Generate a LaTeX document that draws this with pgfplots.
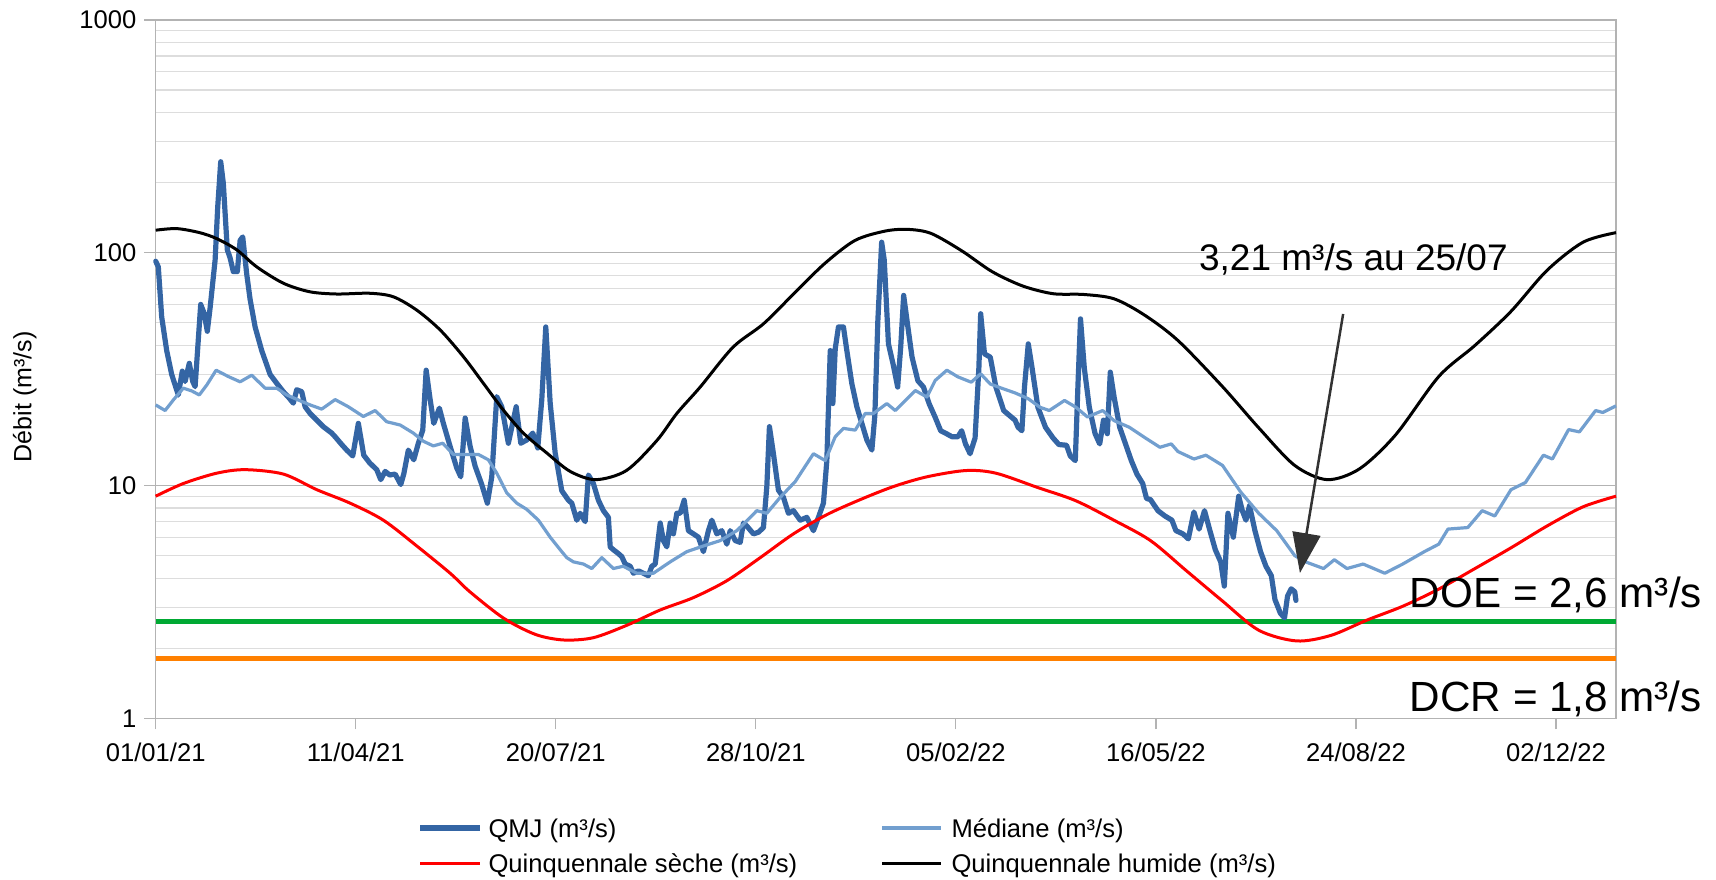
\documentclass[border=0pt]{standalone}
\usepackage{fontspec}
\setmainfont{Liberation Sans}
\usepackage{pgfplots}
\pgfplotsset{compat=1.18}
\usetikzlibrary{arrows.meta}
\definecolor{qmj}{HTML}{3465A4}
\definecolor{med}{HTML}{729FCF}
\definecolor{doe}{HTML}{00A933}
\definecolor{dcr}{HTML}{FF8000}
\definecolor{gridmajor}{HTML}{B3B3B3}
\definecolor{gridminor}{HTML}{DDDDDD}
\definecolor{arrowc}{HTML}{333333}
\begin{document}
\begin{tikzpicture}
\path[use as bounding box] (-77.85pt,-80.35pt) rectangle (780.15pt,359.15pt);
\begin{axis}[
  at={(0pt,0pt)}, anchor=south west,
  scale only axis, width=730.15pt, height=349.15pt,
  ymode=log, ymin=1, ymax=1000, xmin=0, xmax=730,
  xtick={0,100,200,300,400,500,600,700},
  xticklabels={01/01/21,11/04/21,20/07/21,28/10/21,05/02/22,16/05/22,24/08/22,02/12/22},
  ytick={1,10,100,1000}, yticklabels={1,10,100,1000},
  minor ytick={2,3,4,5,6,7,8,9,20,30,40,50,60,70,80,90,200,300,400,500,600,700,800,900},
  ymajorgrids, yminorgrids,
  major grid style={draw=gridmajor, line width=0.6pt},
  minor grid style={draw=gridminor, line width=0.6pt},
  axis line style={draw=gridmajor, line width=0.6pt},
  tick style={draw=gridmajor, line width=0.6pt},
  tick align=outside, major tick length=5.6pt, minor tick length=0pt,
  xtick pos=lower, ytick pos=left,
  tick label style={font=\fontsize{12.8}{15}\selectfont},
  xticklabel style={anchor=base, inner sep=0pt, yshift=-16.2pt},
  yticklabel style={anchor=east, inner sep=0pt, xshift=-3.9pt},
  ylabel={Débit (m³/s)},
  ylabel style={at={(axis description cs:-0.0896,0.4603)}, anchor=center, rotate=0, font=\fontsize{12.5}{15}\selectfont},
  clip=false,
]
% DOE / DCR
\addplot[doe, line width=2.6pt] coordinates {(0,2.6) (730,2.6)};
\addplot[dcr, line width=2.6pt] coordinates {(0,1.8) (730,1.8)};
% QMJ
\addplot[qmj, line width=2.6pt, line join=round, line cap=round] table {
x y
0 92
1.3 87
3 53
5.5 38
8 30
11.3 24.5
13.3 31
14.7 28
16.8 33.5
18.5 28
19.7 26.6
22.5 60
24.2 55
25.8 46
27.2 58
29.7 93
31 157
32.5 246
33.8 199
35.8 103
37.2 95
38.8 83
40.8 83
42.2 113
43.5 117
45.5 81
47.2 63
49.7 48
53 38
57.2 30
60.5 27.5
63.8 25.3
66.3 24
68.8 22.6
70.5 25.8
73 25.3
74.7 21.8
77.2 20.4
80.5 19.1
83.8 17.9
88 16.8
89.7 16.2
93 15
95.5 14.2
98.5 13.4
101.3 18.5
104 13.5
107 12.5
110.5 11.7
112.5 10.6
114.7 11.5
117 11.1
119.7 11.2
122.5 10.1
124 11.2
126.3 14.2
129 12.9
131.3 15.2
133.5 17.3
135.2 31.3
137.2 23.4
139 18.5
141.8 21.5
143.8 18.5
147.2 14.7
150.5 11.9
152.5 10.9
154.7 19.5
157.2 14.7
159.7 12.1
163 10.1
165.8 8.4
168 10.9
170.5 24.1
173 21.8
176.3 15.2
180.2 21.8
182.5 15.2
185.5 15.7
188.5 16.8
191 14.5
193 23.4
195 48
197.2 22.6
199.7 13.8
203 9.5
206.3 8.65
208 8.4
210.5 7.1
212.2 7.6
214.7 7.0
216.3 11.1
218.8 10.2
221.3 8.65
223.8 7.8
226.3 7.3
227.2 5.45
228.8 5.3
231.3 5.1
233 4.95
234.7 4.6
237.2 4.5
238.8 4.2
241.3 4.3
243.8 4.2
246.3 4.1
248 4.5
249.7 4.6
252.2 6.9
253.8 5.8
255.5 5.45
257.2 6.9
258.8 6.2
260.5 7.6
262.2 7.6
264.2 8.65
266.3 6.4
268.8 6.2
271.3 6.0
273.8 5.2
276.3 6.4
278 7.1
280.5 6.2
283 6.4
285.5 5.6
287.2 6.4
289.7 5.8
292.2 5.7
293.8 6.9
295.5 6.7
298.8 6.2
301.3 6.3
303.8 6.6
305.5 9.9
306.8 17.9
308.8 13.7
311.3 9.55
313.8 8.9
316.3 7.6
318.8 7.8
322.2 7.1
325.5 7.3
328.8 6.4
331.3 7.3
333.8 8.4
335.5 12.8
337.2 38
338.5 22.5
339.7 38.7
341.3 48
343.8 48
345.5 38
348 27.4
350.5 21.8
353 18.5
355.5 15.7
358 14.2
359.5 20
361 51
362.9 111
364.2 93
366.3 40.6
368.6 33.3
370.9 26.5
372.4 39
373.9 65.6
375.8 49.5
378.1 35.6
381 28.2
383.8 26.5
386.7 22.4
389.6 19.7
392.4 17.2
395.3 16.7
398.1 16.2
401 16.2
402.9 17.2
404.8 15.1
407.1 13.7
409.6 16
411.5 32
412.4 54.7
414.3 36.8
417.2 35.6
420 26.5
423.9 21
427.7 19.7
429.6 19.1
431.1 17.8
433 17.2
434.3 26.5
436.2 40.6
438.1 32
441 21.7
444.8 17.8
448.6 16
451.5 15
455.3 14.9
457.2 13.4
459.7 12.8
461 26.5
462.3 52
464.2 32
466.7 21.7
469.6 16.7
471.9 15.1
473.8 19.1
475.7 16.7
477.2 30.7
479.1 24
481.9 17.8
484.8 15.1
487.7 12.8
490.5 11.2
493.4 10.2
495.3 8.8
497.3 8.7
501 7.8
504.5 7.4
508 7.1
510 6.4
513.5 6.2
516.2 5.9
519 7.7
521.6 6.5
524.3 7.8
527 6.4
529.7 5.3
532.4 4.7
534.2 3.7
536 7.6
538.7 6.0
541.4 9.0
543.2 7.8
545 7.1
546.8 8.2
549.5 6.4
552.3 5.2
555 4.5
557.7 4.1
559.5 3.24
562.2 2.83
564.3 2.7
565.8 3.35
567.6 3.6
569.4 3.5
570 3.21
};
% Mediane
\addplot[med, line width=1.6pt, line join=round] table {
x y
0 22.2
4.7 21
8.8 23.3
13.8 26.2
18 25.5
21.8 24.5
25.5 27
30.2 31.3
36.3 29.4
42.2 27.9
48 29.8
54.7 26.2
60.5 26.2
65.5 24.5
71.3 23.3
77.2 22.2
83 21.3
89.7 23.4
96.3 21.8
103.8 19.8
109.7 21
115.5 18.8
122.2 18.2
128.8 16.8
133.8 15.5
138.8 14.8
143.5 15.2
148.8 13.6
155.5 13.6
161.3 13.6
166.3 12.9
170.5 11.3
175.5 9.3
180.5 8.4
185.5 7.9
191.3 7.1
197.2 6.0
202.2 5.3
205.5 4.9
208.8 4.7
213.8 4.6
218 4.4
223 4.9
228.8 4.4
233.7 4.5
240.5 4.2
248.8 4.2
257.2 4.7
265.5 5.2
273.8 5.5
282.2 5.8
290.5 6.4
297.2 7.3
300.5 7.8
305.5 7.6
312.2 8.9
319.7 10.4
325.5 12.4
328.8 13.7
334.7 12.8
339.7 16.2
343.8 17.6
349.7 17.3
354.7 20.4
358.8 20.4
365.5 22.5
369.7 21
379.7 25.6
385.5 24
389.7 28.3
395.5 31.3
401 29.3
407.7 27.8
412.4 30.2
417.2 27.3
423.9 26
429.6 25
436.2 23.6
442 21.7
446.7 21
454.3 23.2
460 21.7
465.8 19.7
473.4 21
479.1 19
486.7 17.8
494.3 16.1
502 14.6
507.7 15.1
511 14.0
519 13
525 13.5
533.3 12.2
542.3 9.4
551.4 7.6
560.4 6.4
569.4 5.0
574.8 4.7
583.8 4.4
589.2 4.8
595.5 4.4
603.6 4.6
614.4 4.2
623.4 4.6
634.2 5.2
641.4 5.6
646 6.5
655.9 6.6
663.1 7.8
669.4 7.4
677.5 9.6
684.7 10.3
693.7 13.5
698.2 13
706.3 17.4
711.7 17
719.8 21
723.4 20.6
730 22
};
% Quinquennale seche
\addplot[red, line width=1.5pt, smooth] table {
x y
0 9.0
13.8 10.2
30.5 11.3
44.7 11.7
63.8 11.2
80.5 9.6
97.2 8.4
113.8 7.1
130.5 5.5
147.2 4.2
157 3.5
174 2.69
190 2.29
204 2.17
218.8 2.22
235.5 2.51
252.2 2.92
268.8 3.3
285.5 3.9
302.2 4.9
318.8 6.2
335.5 7.5
352.2 8.7
368.8 9.9
385.5 10.9
405 11.6
420 11.3
441 9.8
460 8.6
479 7.1
497.3 5.8
515.3 4.3
533.3 3.19
551.4 2.39
570.3 2.15
587.4 2.27
605.4 2.64
623.4 3.03
641.4 3.59
659.5 4.4
677.5 5.4
695.5 6.7
713.5 8.1
730 9.0
};
% Quinquennale humide
\addplot[black, line width=1.5pt, smooth] table {
x y
0 125
10.5 127
22 122
30.5 115
40.5 103
50.5 87
63.8 74
77 68
90.5 66.5
107 67
118.8 64.7
130.5 56.7
142.2 46.6
153.8 35.8
163.8 27.5
173.8 21.1
183.8 16.8
195.5 13.8
207.2 11.5
220 10.6
235.3 11.6
250.5 15.6
260.5 20.4
272.2 26.5
288.6 39.3
303.8 49.5
319 66.7
334.3 89.7
349.6 113
364.8 124
376.2 126
387.7 121
402.9 102
418.1 83
433.4 72
448.6 66.7
463.9 66.2
479.1 63.4
494.3 54
511 42
533.3 26.6
551.4 17.7
569.4 12.2
585.6 10.6
601.8 11.8
619.8 16.5
641.4 29.4
659.5 40
677.5 56
695.5 84
713.5 111
730 122
};
\draw[arrowc, line width=1.25pt, -{Triangle[length=20pt,width=14pt]}] (axis cs:593.6,54.6) -- (axis cs:572,4.21);
\end{axis}
% annotations
\node[anchor=base west, inner sep=0pt, font=\fontsize{18.5}{22}\selectfont] at (521.5pt,224pt) {3,21 m³/s au 25/07};
\node[anchor=base west, inner sep=0pt, font=\fontsize{21.1}{25}\selectfont] at (626.9pt,55.6pt) {DOE = 2,6 m³/s};
\node[anchor=base west, inner sep=0pt, font=\fontsize{21.1}{25}\selectfont] at (626.9pt,3.2pt) {DCR = 1,8 m³/s};
% legend
\begin{scope}[font=\fontsize{12.8}{15}\selectfont]
\draw[qmj, line width=2.6pt] (132.2pt,-54.85pt) -- (162.2pt,-54.85pt);
\node[anchor=base west, inner sep=0pt] at (166.2pt,-59.45pt) {QMJ (m³/s)};
\draw[med, line width=2.2pt] (363.2pt,-54.85pt) -- (392.7pt,-54.85pt);
\node[anchor=base west, inner sep=0pt] at (397.7pt,-59.45pt) {Médiane (m³/s)};
\draw[red, line width=1.5pt] (132.2pt,-72.35pt) -- (162.2pt,-72.35pt);
\node[anchor=base west, inner sep=0pt] at (166.2pt,-76.95pt) {Quinquennale sèche (m³/s)};
\draw[black, line width=1.5pt] (363.2pt,-72.35pt) -- (392.7pt,-72.35pt);
\node[anchor=base west, inner sep=0pt] at (397.7pt,-76.95pt) {Quinquennale humide (m³/s)};
\end{scope}
\end{tikzpicture}
\end{document}
